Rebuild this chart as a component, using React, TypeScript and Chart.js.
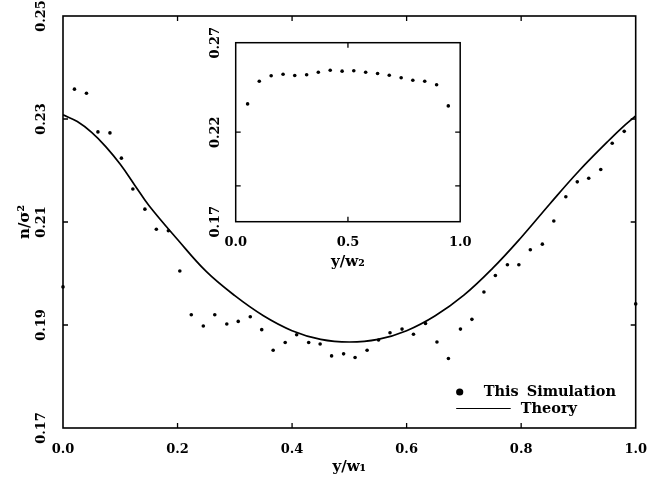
import React, { useEffect, useRef } from "react";
import { Chart, registerables } from "chart.js";

Chart.register(...registerables);

// ---------- data ----------
const SIM_X = [
  0, 0.02, 0.041, 0.061, 0.082, 0.102, 0.122, 0.143, 0.163, 0.184,
  0.204, 0.224, 0.245, 0.265, 0.286, 0.306, 0.327, 0.347, 0.367, 0.388,
  0.408, 0.429, 0.449, 0.469, 0.49, 0.51, 0.531, 0.551, 0.571, 0.592,
  0.612, 0.633, 0.653, 0.673, 0.694, 0.714, 0.735, 0.755, 0.776, 0.796,
  0.816, 0.837, 0.857, 0.878, 0.898, 0.918, 0.939, 0.959, 0.98, 1.0,
];
const SIM_Y = [
  0.1974, 0.2358, 0.235, 0.2275, 0.2273, 0.2224, 0.2164, 0.2125, 0.2086, 0.2083,
  0.2005, 0.192, 0.1898, 0.192, 0.1902, 0.1907, 0.1916, 0.1891, 0.1851, 0.1866,
  0.1881, 0.1866, 0.1863, 0.184, 0.1844, 0.1837, 0.1851, 0.1871, 0.1885, 0.1892,
  0.1882, 0.1903, 0.1867, 0.1835, 0.1892, 0.1911, 0.1964, 0.1996, 0.2017, 0.2017,
  0.2046, 0.2057, 0.2102, 0.2149, 0.2178, 0.2185, 0.2202, 0.2253, 0.2276, 0.1941,
];
const THEORY_X = [
  0, 0.025, 0.05, 0.075, 0.1, 0.125, 0.15, 0.2, 0.25, 0.3, 0.35, 0.4, 0.45,
  0.5, 0.55, 0.6, 0.65, 0.7, 0.75, 0.8, 0.85, 0.9, 0.95, 0.975, 1.0,
];
const THEORY_Y = [
  0.2308, 0.2295, 0.2274, 0.2246, 0.2212, 0.2172, 0.2132, 0.2066, 0.2004, 0.1957,
  0.1918, 0.1889, 0.1872, 0.1867, 0.1872, 0.1889, 0.1918, 0.1958, 0.201, 0.207,
  0.2135, 0.2198, 0.2255, 0.2282, 0.2306,
];
const INSET_X = [
  0.053, 0.105, 0.158, 0.211, 0.263, 0.316, 0.368, 0.421, 0.474,
  0.526, 0.579, 0.632, 0.684, 0.737, 0.789, 0.842, 0.895, 0.947,
];
const INSET_Y = [
  0.2358, 0.2485, 0.2515, 0.2524, 0.2517, 0.2521, 0.2535, 0.2546, 0.2541,
  0.2543, 0.2535, 0.2528, 0.2518, 0.2504, 0.249, 0.2485, 0.2465, 0.2347,
];

const MAIN_X_TICKS = [0, 0.2, 0.4, 0.6, 0.8, 1.0];
const MAIN_Y_TICKS = [0.17, 0.19, 0.21, 0.23, 0.25];
const MAIN_X_MARKS = [0.2, 0.4, 0.6, 0.8];
const MAIN_Y_MARKS = [0.19, 0.21, 0.23];
const INSET_X_TICKS = [0, 0.5, 1.0];
const INSET_Y_TICKS = [0.17, 0.22, 0.27];
const INSET_X_MARKS = [0.5];
const INSET_Y_MARKS = [0.19, 0.22];

const SIM_LABEL = "This Simulation";
const THEORY_LABEL = "Theory";
const X_TITLE = "y/w\u2081";
const Y_TITLE = "n/\u03c3\u00b2";
const INSET_X_TITLE = "y/w\u2082";

const FONT = "'DejaVu Serif', 'Liberation Serif', serif";

// ---------- plugins ----------
const frameTicks = {
  id: "frameTicks",
  afterDraw(chart: any, _args: any, opts: any) {
    const { ctx, chartArea: a, scales } = chart;
    ctx.save();
    ctx.strokeStyle = "#000";
    ctx.lineWidth = opts.lineWidth ?? 1.6;
    ctx.strokeRect(a.left, a.top, a.right - a.left, a.bottom - a.top);
    const L = opts.len ?? 5;
    ctx.beginPath();
    for (const v of opts.xMarks || []) {
      const px = scales.x.getPixelForValue(v);
      ctx.moveTo(px, a.bottom);
      ctx.lineTo(px, a.bottom - L);
      ctx.moveTo(px, a.top);
      ctx.lineTo(px, a.top + L);
    }
    for (const v of opts.yMarks || []) {
      const py = scales.y.getPixelForValue(v);
      ctx.moveTo(a.left, py);
      ctx.lineTo(a.left + L, py);
      ctx.moveTo(a.right, py);
      ctx.lineTo(a.right - L, py);
    }
    ctx.lineWidth = 1.3;
    ctx.stroke();
    ctx.restore();
  },
};

const simLegend = {
  id: "simLegend",
  afterDraw(chart: any) {
    const { ctx, chartArea: a } = chart;
    const ds = chart.data.datasets;
    ctx.save();
    ctx.font = `bold 14.5px ${FONT}`;
    ctx.fillStyle = "#000";
    ctx.strokeStyle = "#000";
    ctx.textBaseline = "middle";
    ctx.textAlign = "left";
    try {
      (ctx as any).wordSpacing = "3px";
    } catch (e) {}
    const x0 = a.right - 176;
    const y0 = a.bottom - 36;
    ctx.beginPath();
    ctx.arc(x0, y0, 3.6, 0, Math.PI * 2);
    ctx.fill();
    ctx.fillText(ds[0].label, x0 + 24, y0);
    ctx.beginPath();
    ctx.moveTo(x0 - 3.5, y0 + 16.5);
    ctx.lineTo(x0 + 51, y0 + 16.5);
    ctx.lineWidth = 1.2;
    ctx.stroke();
    ctx.fillText(ds[1].label, x0 + 61, y0 + 17);
    ctx.restore();
  },
};

const tickFont = { family: FONT, weight: "bold" as const, size: 13 };
const titleFont = { family: FONT, weight: "bold" as const, size: 15 };

function setTicks(list: number[]) {
  return (s: any) => {
    s.ticks = list.map((v) => ({ value: v }));
  };
}

export default function App() {
  const mainRef = useRef<HTMLCanvasElement>(null);
  const insetRef = useRef<HTMLCanvasElement>(null);

  useEffect(() => {
    const main = new Chart(mainRef.current as HTMLCanvasElement, {
      type: "scatter",
      data: {
        datasets: [
          {
            label: SIM_LABEL,
            data: SIM_X.map((x, i) => ({ x, y: SIM_Y[i] })),
            pointRadius: 1.8,
            pointBorderWidth: 0,
            backgroundColor: "#000",
            borderColor: "#000",
            showLine: false,
            clip: false as any,
          },
          {
            label: THEORY_LABEL,
            type: "line" as any,
            data: THEORY_X.map((x, i) => ({ x, y: THEORY_Y[i] })),
            pointRadius: 0,
            borderColor: "#000",
            borderWidth: 1.7,
            tension: 0.4,
            fill: false,
          } as any,
        ],
      },
      options: {
        animation: false,
        responsive: false,
        maintainAspectRatio: false,
        devicePixelRatio: 1,
        layout: { padding: { top: 16, right: 24, left: 0, bottom: 0 } },
        plugins: {
          legend: { display: false },
          tooltip: { enabled: false },
          frameTicks: { xMarks: MAIN_X_MARKS, yMarks: MAIN_Y_MARKS },
        } as any,
        scales: {
          x: {
            type: "linear",
            min: 0,
            max: 1,
            afterBuildTicks: setTicks(MAIN_X_TICKS),
            afterFit: (s: any) => {
              s.height = 51;
            },
            ticks: {
              font: tickFont,
              color: "#000",
              padding: 14,
              callback: (v: any) => Number(v).toFixed(1),
            },
            grid: { display: false, drawTicks: false },
            border: { display: false },
            title: {
              display: true,
              text: X_TITLE,
              font: titleFont,
              color: "#000",
              padding: { top: 0, bottom: 3 },
            },
          },
          y: {
            type: "linear",
            min: 0.17,
            max: 0.25,
            afterBuildTicks: setTicks(MAIN_Y_TICKS),
            afterFit: (s: any) => {
              s.width = 63;
            },
            ticks: {
              font: tickFont,
              color: "#000",
              padding: 6,
              minRotation: 90,
              maxRotation: 90,
              crossAlign: "center",
              callback: (v: any) => Number(v).toFixed(2),
            },
            grid: { display: false, drawTicks: false },
            border: { display: false },
            title: {
              display: true,
              text: Y_TITLE,
              font: titleFont,
              color: "#000",
              padding: { top: 16, bottom: 0 },
            },
          },
        },
      },
      plugins: [frameTicks, simLegend],
    });

    const inset = new Chart(insetRef.current as HTMLCanvasElement, {
      type: "scatter",
      data: {
        datasets: [
          {
            label: SIM_LABEL,
            data: INSET_X.map((x, i) => ({ x, y: INSET_Y[i] })),
            pointRadius: 1.8,
            pointBorderWidth: 0,
            backgroundColor: "#000",
            borderColor: "#000",
          },
        ],
      },
      options: {
        animation: false,
        responsive: false,
        maintainAspectRatio: false,
        devicePixelRatio: 1,
        layout: { padding: { top: 22.7, right: 19.5, left: 0, bottom: 0 } },
        plugins: {
          legend: { display: false },
          tooltip: { enabled: false },
          frameTicks: { xMarks: INSET_X_MARKS, yMarks: INSET_Y_MARKS, lineWidth: 1.5 },
        } as any,
        scales: {
          x: {
            type: "linear",
            min: 0,
            max: 1,
            afterBuildTicks: setTicks(INSET_X_TICKS),
            afterFit: (s: any) => {
              s.height = 58.3;
            },
            ticks: {
              font: tickFont,
              color: "#000",
              padding: 13.5,
              callback: (v: any) => Number(v).toFixed(1),
            },
            grid: { display: false, drawTicks: false },
            border: { display: false },
            title: {
              display: true,
              text: INSET_X_TITLE,
              font: titleFont,
              color: "#000",
              padding: { top: 0, bottom: 8.5 },
            },
          },
          y: {
            type: "linear",
            min: 0.17,
            max: 0.27,
            afterBuildTicks: setTicks(INSET_Y_TICKS),
            afterFit: (s: any) => {
              s.width = 40.7;
            },
            ticks: {
              font: tickFont,
              color: "#000",
              padding: 4,
              minRotation: 90,
              maxRotation: 90,
              crossAlign: "center",
              callback: (v: any) => Number(v).toFixed(2),
            },
            grid: { display: false, drawTicks: false },
            border: { display: false },
          },
        },
      },
      plugins: [frameTicks],
    });

    return () => {
      main.destroy();
      inset.destroy();
    };
  }, []);

  return (
    <div
      style={{
        position: "fixed",
        left: 0,
        top: 0,
        width: 661,
        height: 479,
        background: "#fff",
      }}
    >
      <canvas
        ref={mainRef}
        width={661}
        height={479}
        style={{ position: "absolute", left: 0, top: 0, width: 661, height: 479 }}
      />
      <canvas
        ref={insetRef}
        width={290}
        height={260}
        style={{ position: "absolute", left: 195, top: 20, width: 290, height: 260 }}
      />
    </div>
  );
}
